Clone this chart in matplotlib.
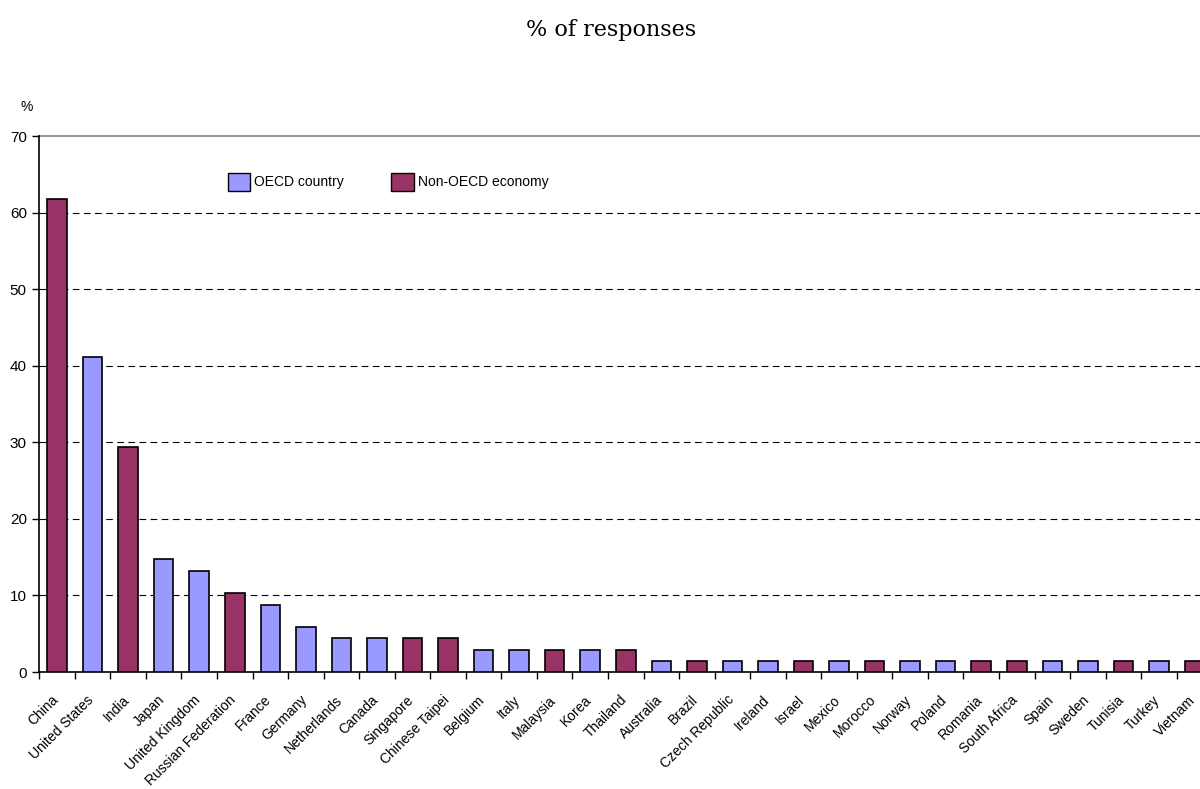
import numpy as np
import matplotlib.pyplot as plt
from matplotlib.patches import Patch
from matplotlib.transforms import ScaledTranslation

plt.rcParams['font.family'] = ['Liberation Sans', 'DejaVu Sans']

# Survey responses by country, in % of respondents
countries = ["China", "United States", "India", "Japan", "United Kingdom",
             "Russian Federation", "France", "Germany", "Netherlands", "Canada",
             "Singapore", "Chinese Taipei", "Belgium", "Italy", "Malaysia",
             "Korea", "Thailand", "Australia", "Brazil", "Czech Republic",
             "Ireland", "Israel", "Mexico", "Morocco", "Norway", "Poland",
             "Romania", "South Africa", "Spain", "Sweden", "Tunisia", "Turkey",
             "Vietnam"]
values = [61.8, 41.2, 29.4, 14.7, 13.2, 10.3, 8.8, 5.9, 4.4, 4.4, 4.4, 4.4,
          2.9, 2.9, 2.9, 2.9, 2.9, 1.5, 1.5, 1.5, 1.5, 1.5, 1.5, 1.5, 1.5,
          1.5, 1.5, 1.5, 1.5, 1.5, 1.5, 1.5, 1.5]
oecd = [False, True, False, True, True, False, True, True, True, True,
        False, False, True, True, False, True, False, True, False, True,
        True, False, True, False, True, True, False, False, True, True,
        False, True, False]

c_oecd = '#9999FF'
c_non = '#993366'

fig = plt.figure(figsize=(12, 7.89), dpi=100)
# axes run a bit past the right edge of the figure
ax = fig.add_axes([39.3 / 1200, 1 - 672 / 789, 1173 / 1200, 536 / 789])

x = np.arange(len(countries))
colors = [c_oecd if o else c_non for o in oecd]
ax.bar(x, values, width=0.55, color=colors, edgecolor='black', linewidth=1.2, zorder=3)

ax.set_xlim(-0.5, len(countries) - 0.5)
ax.set_ylim(0, 70)
ax.set_yticks(range(0, 71, 10))
ax.tick_params(axis='y', labelsize=11, length=5, width=1, direction='out', pad=4)

# category boundary ticks, labels centred under bars
ax.set_xticks(np.arange(-0.5, len(countries), 1.0))
ax.set_xticklabels([])
ax.set_xticks(x, minor=True)
ax.set_xticklabels(countries, minor=True, rotation=45, ha='right',
                   rotation_mode='anchor', fontsize=10)
ax.tick_params(axis='x', which='major', length=5, width=1, direction='out')
ax.tick_params(axis='x', which='minor', length=0, pad=15)
shift = ScaledTranslation(-6 / 100, 0, fig.dpi_scale_trans)
for lab in ax.get_xticklabels(minor=True):
    lab.set_transform(lab.get_transform() + shift)

for v in range(10, 70, 10):
    ax.axhline(v, color='black', linestyle=(0, (6, 4)), linewidth=0.8, zorder=1)
ax.axhline(70, color='#999999', linewidth=1.5, zorder=1, clip_on=False)

ax.spines['right'].set_visible(False)
ax.spines['top'].set_visible(False)
ax.spines['left'].set_linewidth(1.2)
ax.spines['bottom'].set_linewidth(1.2)

handles = [Patch(facecolor=c_oecd, edgecolor='black', label='OECD country'),
           Patch(facecolor=c_non, edgecolor='black', label='Non-OECD economy')]
fig.legend(handles=handles, loc='upper left', bbox_to_anchor=(221 / 1200, 1 - 166 / 789),
           ncol=2, frameon=False, fontsize=10, borderpad=0, handlelength=1.6,
           handleheight=1.6, handletextpad=0.3, columnspacing=3.4)

fig.text(611 / 1200, 1 - 30 / 789, '% of responses', family='DejaVu Serif',
         fontsize=16, ha='center', va='center')
fig.text(27 / 1200, 1 - 107 / 789, '%', fontsize=10, ha='center', va='center')

fig.savefig('out.png', dpi=100)
